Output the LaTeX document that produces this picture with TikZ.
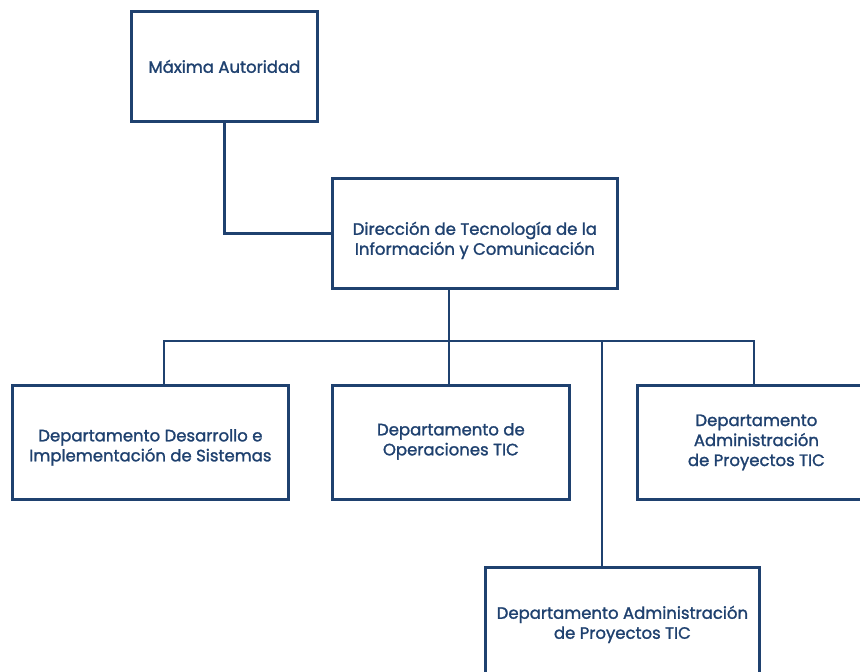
\documentclass[tikz,border=0pt]{standalone}
\usepackage{fontspec}
\setmainfont{Poppins}
\newfontfamily\boxfont{Poppins}[FakeBold=1.5]
\definecolor{navy}{HTML}{1F416F}
\begin{document}
\begin{tikzpicture}[x=1pt,y=-1pt,
  unit/.style={draw=navy, line width=2.8pt, inner sep=0pt, anchor=north west},
  caption/.style={text=navy, align=center, inner sep=0pt,
    font=\boxfont\fontsize{16.5}{20}\selectfont},
  link/.style={draw=navy, line width=2.8pt}]
\useasboundingbox (0,0) rectangle (860,672);
\clip (0,0) rectangle (860,672);
% boxes (x, y of top-left corner; sizes in px)
\node[unit, minimum width=186pt, minimum height=110pt] (max) at (130,10) {};
\node[unit, minimum width=285pt, minimum height=110pt] (dir) at (331,177) {};
\node[unit, minimum width=276pt, minimum height=114pt] (des) at (11,384) {};
\node[unit, minimum width=237pt, minimum height=114pt] (ope) at (331,384) {};
\node[unit, minimum width=238pt, minimum height=114pt] (adm) at (636,384) {};
\node[unit, minimum width=274pt, minimum height=114pt] (pro) at (484,566) {};
% box captions
\node[caption] (maxt) at (max.center) {Máxima Autoridad};
\node[caption] (dirt) at ([yshift=-7pt]dir.center)
  {Dirección de Tecnología de la\\Información y Comunicación};
\node[caption] (dest) at ([yshift=-5pt]des.center)
  {Departamento Desarrollo e\\Implementación de Sistemas};
\node[caption] (opet) at ([yshift=1pt]ope.center) {Departamento de\\Operaciones TIC};
\node[caption] (admt) at (adm.center)
  {Departamento\\Administración\\de Proyectos TIC};
\node[caption] (prot) at (pro.center)
  {Departamento Administración\\de Proyectos TIC};
% connector bus and its drop points
\coordinate (bus) at (449,341);
\coordinate (tapL) at (164,341);
\coordinate (tapR) at (754,341);
\coordinate (tapB) at (602,341);
\draw[link] (max.south) |- (dir.west);
\draw[link] (bus |- dir.south) -- (bus);
\draw[link] (tapL |- des.north) -- (tapL) -- (tapR) -- (tapR |- adm.north);
\draw[link] (bus |- ope.north) -- (bus);
\draw[link] (tapB) -- (tapB |- pro.north);
\end{tikzpicture}
\end{document}
